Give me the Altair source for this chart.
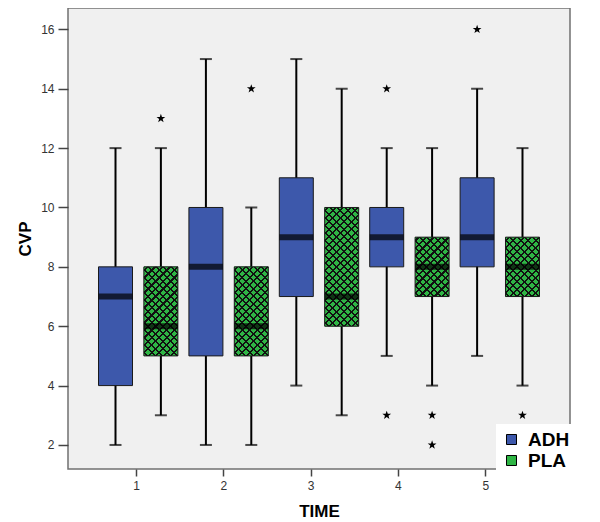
import altair as alt
import pandas as pd
import numpy as np

# ---------------- data ----------------
times = [1, 2, 3, 4, 5]
groups = ["ADH", "PLA"]

adh_min = [2, 2, 4, 5, 5]
adh_q1 = [4, 5, 7, 8, 8]
adh_median = [7, 8, 9, 9, 9]
adh_q3 = [8, 10, 11, 10, 11]
adh_max = [12, 15, 15, 12, 14]

pla_min = [3, 2, 3, 4, 4]
pla_q1 = [5, 5, 6, 7, 7]
pla_median = [6, 6, 7, 8, 8]
pla_q3 = [8, 8, 10, 9, 9]
pla_max = [12, 10, 14, 12, 12]

adh_outlier_time = [4, 4, 5]
adh_outlier_value = [14, 3, 16]
pla_outlier_time = [1, 2, 4, 4, 5]
pla_outlier_value = [13, 14, 3, 2, 3]

y_ticks = [2, 4, 6, 8, 10, 12, 14, 16]

# ---------------- styling ----------------
FONT = "Liberation Sans"
BLUE = "#3D58AB"
GREEN = "#2FB545"
PLOT_W, PLOT_H = 502, 461
Y_DOMAIN = [1.19, 16.72]
X_AXIS_DOMAIN = [0.2214, 5.970]
BOX_W = 34
PX_PER_UNIT = PLOT_H / (Y_DOMAIN[1] - Y_DOMAIN[0])
STAR = ("M0,-1L0.235,-0.324L0.951,-0.309L0.380,0.124L0.588,0.809L0,0.4"
        "L-0.588,0.809L-0.380,0.124L-0.951,-0.309L-0.235,-0.324Z")

# ---------------- tables ----------------
box_df = pd.DataFrame({
    "time": times * 2,
    "group": ["ADH"] * len(times) + ["PLA"] * len(times),
    "lo": adh_min + pla_min,
    "q1": adh_q1 + pla_q1,
    "median": adh_median + pla_median,
    "q3": adh_q3 + pla_q3,
    "hi": adh_max + pla_max,
})
out_df = pd.DataFrame({
    "time": adh_outlier_time + pla_outlier_time,
    "group": ["ADH"] * len(adh_outlier_time) + ["PLA"] * len(pla_outlier_time),
    "value": adh_outlier_value + pla_outlier_value,
})

x_enc = alt.X("time:O", scale=alt.Scale(domain=times, paddingInner=0.1, paddingOuter=0.3265), axis=None)
xo_enc = alt.XOffset("group:N", scale=alt.Scale(domain=groups, paddingInner=0.251, paddingOuter=0.022))
y_scale = alt.Scale(domain=Y_DOMAIN, nice=False, zero=False)

y_axis = alt.Axis(
    values=y_ticks, format="d", title="CVP", grid=False, domain=False,
    tickSize=10, tickWidth=1.5, tickColor="#444444",
    labelFont=FONT, labelFontSize=12, labelColor="#333333", labelPadding=4,
    titleFont=FONT, titleFontSize=17, titleFontWeight="bold", titleColor="black",
    titlePadding=6,
)

base = alt.Chart(box_df)

whiskers = base.mark_rule(color="black", strokeWidth=2).encode(
    x=x_enc, xOffset=xo_enc,
    y=alt.Y("lo:Q", scale=y_scale, axis=y_axis), y2="hi:Q",
)
caps_lo = base.mark_tick(color="black", thickness=2, size=12).encode(
    x=x_enc, xOffset=xo_enc, y=alt.Y("lo:Q", scale=y_scale))
caps_hi = base.mark_tick(color="black", thickness=2, size=12).encode(
    x=x_enc, xOffset=xo_enc, y=alt.Y("hi:Q", scale=y_scale))

boxes = base.mark_bar(width=BOX_W).encode(
    x=x_enc, xOffset=xo_enc,
    y=alt.Y("q1:Q", scale=y_scale), y2="q3:Q",
    fill=alt.Fill("group:N", scale=alt.Scale(domain=groups, range=[BLUE, GREEN]),
                  legend=alt.Legend(
                      title=None, orient="none", legendX=428, legendY=416,
                      fillColor="white", padding=6,
                      symbolType="square", symbolSize=100,
                      symbolStrokeColor="black", symbolStrokeWidth=1,
                      labelFont=FONT, labelFontSize=19, labelFontWeight="bold",
                      labelColor="black", labelOffset=7, rowPadding=1)),
)


def hatch_gradient(w, h, base_color, direction, period=5.3, line=1.5):
    k = np.sqrt(2) * w / (w * w + h * h)
    smax = (w + h) / np.sqrt(2)
    stops = [(0.0, base_color)]
    s = period / 2
    while s - line / 2 < smax:
        a = max((s - line / 2) * k, 0.0)
        b = min((s + line / 2) * k, 1.0)
        stops += [(a, base_color), (a, "#111111"), (b, "#111111"), (b, base_color)]
        s += period
    stops.append((1.0, base_color))
    stops = [alt.GradientStop(color=c, offset=float(round(o, 5))) for o, c in stops]
    if direction == 0:
        return alt.LinearGradient(gradient="linear", stops=stops, x1=0, y1=0, x2=1, y2=float(h / w))
    return alt.LinearGradient(gradient="linear", stops=stops, x1=0, y1=1, x2=1, y2=float(1 - h / w))


hatch_layers = []
for t, q1, q3 in zip(times, pla_q1, pla_q3):
    h = (q3 - q1) * PX_PER_UNIT
    for d, col in ((0, GREEN), (1, "rgba(0,0,0,0)")):
        hatch_layers.append(
            base.transform_filter((alt.datum.time == t) & (alt.datum.group == "PLA"))
            .mark_bar(width=BOX_W, fill=hatch_gradient(BOX_W, h, col, d))
            .encode(x=x_enc, xOffset=xo_enc, y=alt.Y("q1:Q", scale=y_scale), y2="q3:Q")
        )

outline = base.mark_bar(width=BOX_W, fillOpacity=0, stroke="#1a1a1a", strokeWidth=1).encode(
    x=x_enc, xOffset=xo_enc, y=alt.Y("q1:Q", scale=y_scale), y2="q3:Q")

medians = base.mark_tick(color="black", thickness=6, size=BOX_W).encode(
    x=x_enc, xOffset=xo_enc, y=alt.Y("median:Q", scale=y_scale))

outliers = alt.Chart(out_df).mark_point(shape=STAR, size=85, filled=True, color="black", opacity=1).encode(
    x=x_enc, xOffset=xo_enc, y=alt.Y("value:Q", scale=y_scale))

box_part = alt.layer(whiskers, caps_lo, caps_hi, boxes, *hatch_layers, outline, medians, outliers)

axis_layer = alt.Chart(pd.DataFrame({"time": times})).mark_point(opacity=0).encode(
    x=alt.X("time:Q", scale=alt.Scale(domain=X_AXIS_DOMAIN, nice=False, zero=False),
            axis=alt.Axis(values=times, format="d", title="TIME", orient="bottom",
                          grid=False, domain=False, tickSize=7, tickWidth=1.5, tickColor="#444444",
                          labelFont=FONT, labelFontSize=12, labelColor="#333333", labelPadding=4,
                          titleFont=FONT, titleFontSize=17, titleFontWeight="bold",
                          titleColor="black", titlePadding=12))
)

chart = alt.layer(axis_layer, box_part).resolve_scale(x="independent").properties(
    width=PLOT_W, height=PLOT_H,
    autosize=alt.AutoSizeParams(type="none"),
    padding={"left": 60, "top": 0, "right": 14, "bottom": 52},
    background="white",
).configure_view(fill="#F0F0F0", stroke="#707070", strokeWidth=1.5)

chart.save("out.html", embed_options={"renderer": "svg", "actions": False})
